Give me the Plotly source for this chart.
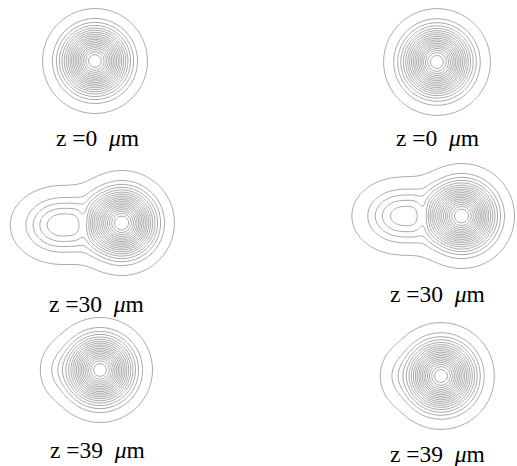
import numpy as np
import plotly.graph_objects as go

W, H = 517, 466

# ---- data (units ~ pixels relative to main lobe centre, y up) ----
labels = ["z =0", "z =0", "z =30", "z =30", "z =39", "z =39"]

# beam components for each panel: centre x, centre y, amplitude, width x, width y
tl_x = [0.0];   tl_y = [0.0];  tl_amp = [1.0];  tl_sx = [28.0]; tl_sy = [28.0]
tr_x = [0.0];   tr_y = [0.0];  tr_amp = [1.0];  tr_sx = [28.5]; tr_sy = [28.5]
ml_x = [0.0, -62.0, -37.0]; ml_y = [0.0, -2.0, 0.0]; ml_amp = [1.0, 0.29, -0.11]
ml_sx = [28.0, 33.0, 7.0];  ml_sy = [28.0, 26.0, 18.0]
mr_x = [0.0, -61.0, -38.0]; mr_y = [0.0, 0.0, 0.0]; mr_amp = [1.0, 0.275, -0.11]
mr_sx = [28.0, 33.0, 7.0];  mr_sy = [28.0, 26.0, 18.0]
bl_x = [0.0, -46.0]; bl_y = [0.0, 0.0]; bl_amp = [1.0, 0.05]; bl_sx = [28.0, 14.0]; bl_sy = [28.0, 22.0]
br_x = [0.0, -47.0]; br_y = [0.0, 0.0]; br_amp = [1.0, 0.05]; br_sx = [28.5, 14.0]; br_sy = [28.5, 22.0]

outer_level = 0.03
inner_start, inner_end, inner_step = 0.10, 0.95, 0.05

# ---- layout (pixel placement of each panel) ----
panels = [
    # components, centre px (x, y), local x range, local y range, label centre px
    ((tl_x, tl_y, tl_amp, tl_sx, tl_sy), (95, 61), (-60, 60), (-58, 60), (97, 138)),
    ((tr_x, tr_y, tr_amp, tr_sx, tr_sy), (437, 62), (-60, 60), (-58, 60), (437, 138)),
    ((ml_x, ml_y, ml_amp, ml_sx, ml_sy), (122, 223), (-118, 65), (-62, 64), (96, 304)),
    ((mr_x, mr_y, mr_amp, mr_sx, mr_sy), (462, 216), (-112, 54), (-62, 64), (437, 294)),
    ((bl_x, bl_y, bl_amp, bl_sx, bl_sy), (100, 370), (-70, 62), (-62, 62), (97, 450)),
    ((br_x, br_y, br_amp, br_sx, br_sy), (441, 376), (-70, 62), (-62, 62), (437, 454)),
]

line_col = "#ababab"
fig = go.Figure()
layout = dict(width=W, height=H, autosize=False, margin=dict(l=0, r=0, t=0, b=0),
              paper_bgcolor="white", plot_bgcolor="white", showlegend=False, annotations=[])

for i, (comp, (cx, cy), (xa, xb), (ya, yb), (lx, ly)) in enumerate(panels):
    n = i + 1
    xs = np.arange(xa, xb + 0.01, 1.0)
    ys = np.arange(ya, yb + 0.01, 1.0)
    X, Y = np.meshgrid(xs, ys)
    Z = np.zeros_like(X)
    for px, py, a, sx, sy in zip(*comp):
        Z += a * np.exp(-((X - px) / sx) ** 2 - ((Y - py) / sy) ** 2)
    Z = np.round(Z, 4)
    xa_name = "x" if n == 1 else f"x{n}"
    ya_name = "y" if n == 1 else f"y{n}"
    for (s, e, sz) in [(outer_level, outer_level + 0.001, 1.0), (inner_start, inner_end + 0.001, inner_step)]:
        fig.add_trace(go.Contour(
            x=xs, y=ys, z=Z, xaxis=xa_name, yaxis=ya_name,
            contours=dict(coloring="lines", start=s, end=e, size=sz),
            colorscale=[[0, line_col], [1, line_col]], showscale=False,
            line=dict(width=1, smoothing=1), hoverinfo="skip"))
    xdom = [(cx + xa) / W, (cx + xb) / W]
    ydom = [1 - (cy - ya) / H, 1 - (cy - yb) / H]
    xkey = "xaxis" if n == 1 else f"xaxis{n}"
    ykey = "yaxis" if n == 1 else f"yaxis{n}"
    layout[xkey] = dict(domain=xdom, range=[xa, xb], visible=False, anchor=ya_name, fixedrange=True)
    layout[ykey] = dict(domain=ydom, range=[ya, yb], visible=False, anchor=xa_name, fixedrange=True)
    layout["annotations"].append(dict(
        x=lx / W, y=1 - ly / H, xref="paper", yref="paper", xanchor="center", yanchor="middle",
        text=labels[i] + "\u00a0 <i>\u03bc</i>m", showarrow=False,
        font=dict(family="Liberation Serif, Times New Roman, serif", size=23.5, color="black")))

fig.update_layout(**layout)
fig.write_html("out.html", config={"displayModeBar": False},
               post_script="document.body.style.margin='0';document.body.style.overflow='hidden';")
